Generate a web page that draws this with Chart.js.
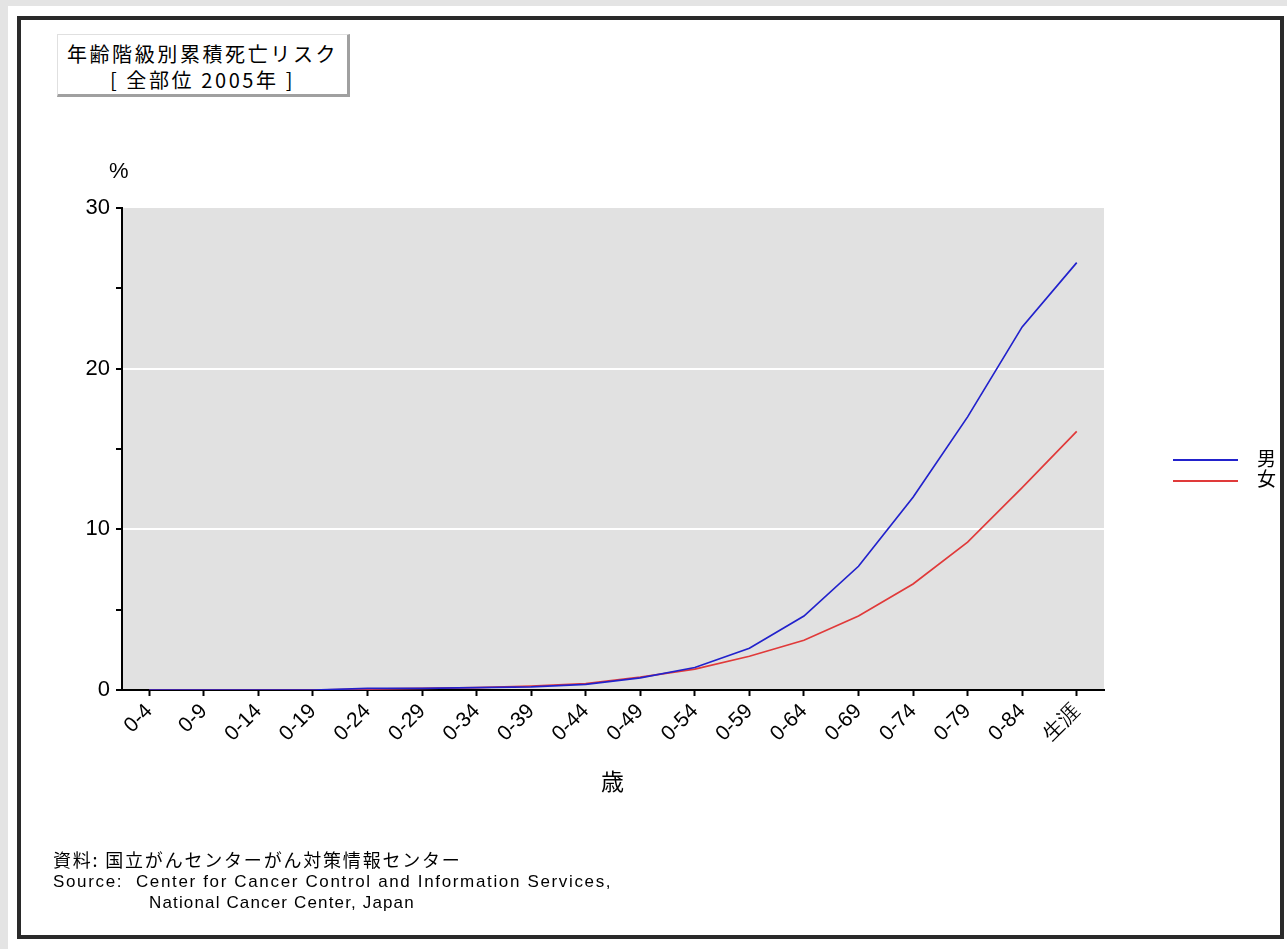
<!DOCTYPE html>
<html>
<head>
<meta charset="utf-8">
<script src="https://cdn.jsdelivr.net/npm/chart.js@4/dist/chart.umd.min.js"></script>
<style>
  html, body { margin: 0; padding: 0; background: #fff; width: 1287px; height: 949px; overflow: hidden;
    font-family: "Noto Sans CJK JP", "DejaVu Sans", sans-serif; color: #000; }
  #edgeTop { position: absolute; left: 0; top: 0; width: 1287px; height: 6px; background: #e4e4e4; }
  #edgeLeft { position: absolute; left: 0; top: 0; width: 8px; height: 949px; background: #e4e4e4; }
  #frame { position: absolute; left: 17px; top: 16px; width: 1259px; height: 915px; border: 4px solid #2a2a2a; }
  #chart { position: absolute; left: 0; top: 0; z-index: 1; }
  .txt { position: absolute; z-index: 2; white-space: nowrap; }
  #titleBox { position: absolute; z-index: 2; left: 57px; top: 34px; width: 293px; height: 63px; box-sizing: border-box;
    background: #fff; border-top: 1px solid #e0e0e0; border-left: 1px solid #e0e0e0;
    border-right: 3px solid #a0a0a0; border-bottom: 3px solid #a0a0a0;
    text-align: center; font-size: 20px; line-height: 26px; padding-top: 6px; letter-spacing: 2.6px; }
  .legLine { position: absolute; z-index: 2; width: 65px; height: 2px; }
  .src { font-family: "Liberation Sans", "DejaVu Sans", sans-serif; font-size: 17px; line-height: 21px; }
</style>
</head>
<body>
<div id="edgeTop"></div>
<div id="edgeLeft"></div>
<div id="frame"></div>
<canvas id="chart" width="1287" height="949"></canvas>

<div id="titleBox">年齢階級別累積死亡リスク<br>[ 全部位 2005年 ]</div>
<div class="txt" style="left:109px; top:158px; font-size:22px; line-height:26px; font-family:'Liberation Sans', sans-serif;">%</div>
<div class="txt" style="left:601px; top:768px; font-size:23px; line-height:24px;">歳</div>

<div class="legLine" style="left:1173px; top:459px; background:#2222cc;"></div>
<div class="legLine" style="left:1173px; top:480px; background:#e03a3a;"></div>
<div class="txt" style="left:1257px; top:448px; font-size:19px; line-height:20px;">男<br>女</div>

<div class="txt" style="left:53px; top:849px; font-size:18px; line-height:21px; letter-spacing:1.8px;">資料: 国立がんセンターがん対策情報センター</div>
<div class="txt src" style="left:53px; top:871px; letter-spacing:1.65px;">Source:&nbsp; Center for Cancer Control and Information Services,</div>
<div class="txt src" style="left:149px; top:892px; letter-spacing:1.15px;">National Cancer Center, Japan</div>

<script>
// age groups (cumulative up to each age) and lifetime
const ageLabels = ["0-4", "0-9", "0-14", "0-19", "0-24", "0-29", "0-34", "0-39", "0-44",
  "0-49", "0-54", "0-59", "0-64", "0-69", "0-74", "0-79", "0-84", "生涯"];

// cumulative death risk, %
const maleRisk = [0, 0, 0, 0, 0.1, 0.1, 0.15, 0.2, 0.35, 0.75, 1.4, 2.6, 4.6, 7.7, 12.0, 17.0, 22.6, 26.6];
const femaleRisk = [0, 0, 0, 0, 0.05, 0.1, 0.15, 0.25, 0.4, 0.8, 1.3, 2.1, 3.1, 4.6, 6.6, 9.2, 12.6, 16.1];

const yTicks = [0, 10, 20, 30];

// grey plot background
const plotBg = {
  id: "plotBg",
  beforeDraw(chart) {
    const a = chart.chartArea;
    const ctx = chart.ctx;
    ctx.save();
    ctx.fillStyle = "#e1e1e1";
    ctx.fillRect(a.left, a.top, a.right - a.left, a.bottom - a.top);
    ctx.restore();
  }
};

const ctx = document.getElementById("chart").getContext("2d");
new Chart(ctx, {
  type: "line",
  data: {
    labels: ageLabels,
    datasets: [
      { label: "男", data: maleRisk, borderColor: "#2222cc", borderWidth: 1.7, pointRadius: 0, tension: 0 },
      { label: "女", data: femaleRisk, borderColor: "#e03a3a", borderWidth: 1.7, pointRadius: 0, tension: 0 }
    ]
  },
  options: {
    responsive: false,
    animation: false,
    layout: { padding: { top: 208, right: 183, left: 0, bottom: 0 } },
    plugins: { legend: { display: false }, tooltip: { enabled: false } },
    scales: {
      x: {
        offset: true,
        grid: { offset: false, drawOnChartArea: false, drawTicks: true, tickLength: 6, tickColor: "#000", tickWidth: 2 },
        border: { color: "#000", width: 2 },
        ticks: {
          autoSkip: false, minRotation: 45, maxRotation: 45, padding: 3, color: "#000",
          font: { family: "Liberation Sans", size: 21 }
        },
        afterFit(s) { s.height = 259; }
      },
      y: {
        min: 0, max: 30,
        ticks: {
          stepSize: 5, padding: 6, color: "#000",
          font: { family: "Liberation Sans", size: 22 },
          callback: v => yTicks.includes(v) ? v : ""
        },
        grid: {
          color: c => (c.tick && c.tick.value > 0 && c.tick.value < 30 && c.tick.value % 10 === 0) ? "#ffffff" : "rgba(0,0,0,0)",
          lineWidth: 2, tickColor: "#000", tickLength: 6, tickWidth: 2
        },
        border: { color: "#000", width: 2 },
        afterFit(s) { s.width = 122; }
      }
    }
  },
  plugins: [plotBg]
});
</script>
</body>
</html>
